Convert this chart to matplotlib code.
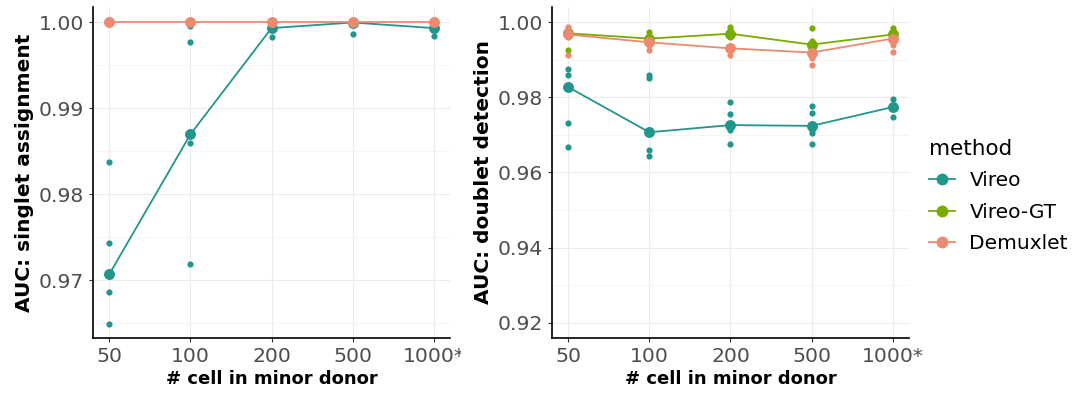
import matplotlib.pyplot as plt
from matplotlib.patches import Rectangle
from matplotlib.lines import Line2D

groups = ['50', '100', '200', '500', '1000*']
methods = ['Vireo', 'Vireo-GT', 'Demuxlet']
colors = {'Vireo': '#21968C', 'Vireo-GT': '#78AC00', 'Demuxlet': '#EC8A6F'}

# singlet assignment AUC: mean per group and the individual runs
singlet_mean = {
    'Vireo': [0.9707, 0.98695, 0.9993, 0.99995, 0.9993],
    'Demuxlet': [1.0, 1.0, 1.0, 1.0, 1.0],
}
singlet_runs = {
    'Vireo': [[0.9838, 0.9743, 0.9686, 0.9649],
              [0.9995, 0.9977, 0.9859, 0.9719],
              [0.9998, 0.9993, 0.9983],
              [1.0, 0.9998, 0.9986],
              [0.9997, 0.9993, 0.9984]],
    'Demuxlet': [[1.0], [1.0], [1.0], [1.0], [1.0]],
}

# doublet detection AUC
doublet_mean = {
    'Vireo': [0.9827, 0.9707, 0.9726, 0.9724, 0.9774],
    'Vireo-GT': [0.9970, 0.9956, 0.9969, 0.9940, 0.9967],
    'Demuxlet': [0.9967, 0.9946, 0.9930, 0.9919, 0.9956],
}
doublet_runs = {
    'Vireo': [[0.9875, 0.9860, 0.9732, 0.9668],
              [0.9858, 0.9851, 0.9660, 0.9645],
              [0.9787, 0.9755, 0.9720, 0.9714, 0.9676],
              [0.9777, 0.9757, 0.9712, 0.9705, 0.9677],
              [0.9796, 0.9780, 0.9747]],
    'Vireo-GT': [[0.9980, 0.9972, 0.99255],
                 [0.9973, 0.9962, 0.9952],
                 [0.9988, 0.9980, 0.9960],
                 [0.9983, 0.9950, 0.9945],
                 [0.9985, 0.9975, 0.9960]],
    'Demuxlet': [[0.9987, 0.9960, 0.9913],
                 [0.9940, 0.99263],
                 [0.9922, 0.9913],
                 [0.9905, 0.98846],
                 [0.9940, 0.9921]],
}

plt.rcParams['font.family'] = 'DejaVu Sans'
fig = plt.figure(figsize=(10.83, 3.96), dpi=100)
ax1 = fig.add_axes([0.0859, 0.1465, 0.3296, 0.8358])
ax2 = fig.add_axes([0.5097, 0.1465, 0.3296, 0.8358])

xpos = list(range(1, len(groups) + 1))


def draw(ax, means, runs):
    for m in methods:
        if m not in means:
            continue
        c = colors[m]
        for i, vals in enumerate(runs[m]):
            ax.scatter([xpos[i]] * len(vals), vals, s=20, color=c, lw=0, zorder=3)
        ax.scatter(xpos, means[m], s=62, color=c, lw=0, zorder=3)
        ax.plot(xpos, means[m], color=c, lw=1.3, zorder=3)


def style(ax, ylabel, ylim, major, minor):
    ax.set_xlim(0.8, 5.2)
    ax.set_ylim(*ylim)
    ax.set_xticks(xpos)
    ax.set_xticklabels(groups)
    ax.set_yticks(major)
    ax.set_yticks(minor, minor=True)
    ax.grid(which='major', color='#ebebeb', lw=0.8)
    ax.grid(which='minor', color='#f4f4f4', lw=0.6)
    ax.tick_params(which='minor', length=0)
    ax.tick_params(which='major', length=3, width=0.8, colors='#333333',
                   labelcolor='#4d4d4d', labelsize=14.7)
    ax.set_axisbelow(True)
    for s in ['top', 'right']:
        ax.spines[s].set_visible(False)
    for s in ['left', 'bottom']:
        ax.spines[s].set_linewidth(1.2)
    ax.set_xlabel('# cell in minor donor', fontsize=13, fontweight='bold', labelpad=3)
    ax.set_ylabel(ylabel, fontsize=14.5, fontweight='bold', labelpad=3)


draw(ax1, singlet_mean, singlet_runs)
style(ax1, 'AUC: singlet assignment', (0.9633, 1.00175),
      [0.97, 0.98, 0.99, 1.00], [0.965, 0.975, 0.985, 0.995])
ax1.set_yticklabels(['0.97', '0.98', '0.99', '1.00'])

draw(ax2, doublet_mean, doublet_runs)
style(ax2, 'AUC: doublet detection', (0.916, 1.004),
      [0.92, 0.94, 0.96, 0.98, 1.00], [0.93, 0.95, 0.97, 0.99])
ax2.set_yticklabels(['0.92', '0.94', '0.96', '0.98', '1.00'])

# the left panel's last tick label is cut off at the panel edge in the original
fig.add_artist(Rectangle((461 / 1083, 28 / 396), 28 / 1083, 30 / 396,
                         transform=fig.transFigure, facecolor='white',
                         edgecolor='none', zorder=10))

handles = [Line2D([], [], color=colors[m], marker='o', markersize=7.5, lw=1.3)
           for m in methods]
leg = fig.legend(handles, methods, title='method', loc='center left',
                 bbox_to_anchor=(0.858, 0.505), frameon=False, fontsize=14.5,
                 title_fontsize=15.5, handlelength=1.3, handletextpad=0.7,
                 labelspacing=0.6, borderpad=0, borderaxespad=0)
leg._legend_box.align = 'left'

fig.savefig('out.png', dpi=100)
